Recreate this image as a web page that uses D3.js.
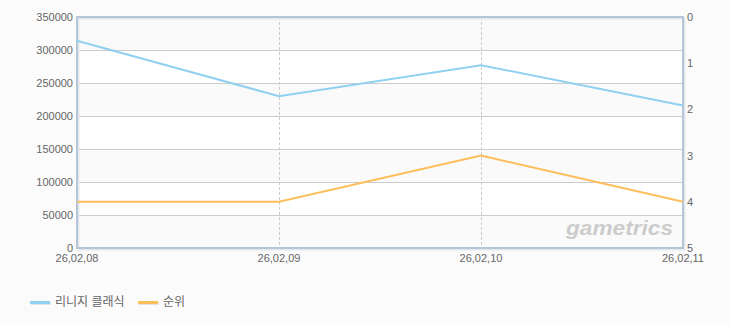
<!DOCTYPE html>
<html>
<head>
<meta charset="utf-8">
<script src="https://cdn.jsdelivr.net/npm/d3@7"></script>
<style>
  body { margin: 0; background: #fbfbfb; }
  text { font-family: "Liberation Sans", "Noto Sans CJK KR", sans-serif; }
</style>
</head>
<body>
<div id="chart"></div>
<script>
var dates = ["26,02,08", "26,02,09", "26,02,10", "26,02,11"];
var users = [314000, 230000, 277000, 216000];
var rank = [4, 4, 3, 4];
var leftTicks = [0, 50000, 100000, 150000, 200000, 250000, 300000, 350000];
var rightTicks = [0, 1, 2, 3, 4, 5];
var seriesNames = ["리니지 클래식", "순위"];

var width = 730, height = 325;
var plotLeft = 77, plotRight = 683, plotTop = 17, plotBottom = 248;
var blue = "#90d1f0", orange = "#fcbf5c";

var svg = d3.select("#chart").append("svg")
  .attr("width", width)
  .attr("height", height);

var x = d3.scalePoint().domain(dates).range([plotLeft, plotRight]);
var y = d3.scaleLinear().domain([0, 350000]).range([plotBottom, plotTop]);
var y2 = d3.scaleLinear().domain([5, 0]).range([plotBottom, plotTop]);

// alternating bands
svg.append("g").selectAll("rect")
  .data(d3.range(7))
  .join("rect")
  .attr("x", plotLeft)
  .attr("width", plotRight - plotLeft)
  .attr("y", function(i) { return y((i + 1) * 50000); })
  .attr("height", function(i) { return y(i * 50000) - y((i + 1) * 50000); })
  .attr("fill", function(i) { return i % 2 === 0 ? "#fafafa" : "#ffffff"; });

// horizontal gridlines
svg.append("g").selectAll("line")
  .data(leftTicks.slice(1, -1))
  .join("line")
  .attr("x1", plotLeft).attr("x2", plotRight)
  .attr("y1", function(d) { return Math.round(y(d)) + 0.5; })
  .attr("y2", function(d) { return Math.round(y(d)) + 0.5; })
  .attr("stroke", "#cccccc");

// vertical dashed gridlines
svg.append("g").selectAll("line")
  .data(dates.slice(1, -1))
  .join("line")
  .attr("x1", function(d) { return Math.round(x(d)) + 0.5; })
  .attr("x2", function(d) { return Math.round(x(d)) + 0.5; })
  .attr("y1", plotTop).attr("y2", plotBottom)
  .attr("stroke", "#cccccc")
  .attr("stroke-dasharray", "3,2");

// watermark
svg.append("text")
  .attr("x", 566).attr("y", 235)
  .attr("font-size", 21)
  .attr("font-weight", "bold")
  .attr("font-style", "italic")
  .attr("fill", "#cccccc")
  .attr("font-family", "DejaVu Sans, sans-serif")
  .attr("textLength", 107)
  .attr("lengthAdjust", "spacingAndGlyphs")
  .text("gametrics");

// frame with shadow
svg.append("rect")
  .attr("x", plotLeft + 1.5).attr("y", plotTop + 1.5)
  .attr("width", plotRight - plotLeft).attr("height", plotBottom - plotTop)
  .attr("fill", "none").attr("stroke", "#e4e8ec").attr("stroke-width", 2);
svg.append("rect")
  .attr("x", plotLeft).attr("y", plotTop)
  .attr("width", plotRight - plotLeft).attr("height", plotBottom - plotTop)
  .attr("fill", "none").attr("stroke", "#b4c6d8").attr("stroke-width", 2);

// lines
var line1 = d3.line().x(function(d, i) { return x(dates[i]); }).y(function(d) { return y(d); });
var line2 = d3.line().x(function(d, i) { return x(dates[i]); }).y(function(d) { return y2(d); });

svg.append("path").datum(users)
  .attr("d", line1).attr("fill", "none")
  .attr("stroke", blue).attr("stroke-width", 2);
svg.append("path").datum(rank)
  .attr("d", line2).attr("fill", "none")
  .attr("stroke", orange).attr("stroke-width", 2);

// axes labels
svg.append("g").selectAll("text")
  .data(leftTicks)
  .join("text")
  .attr("x", 73)
  .attr("y", function(d) { return y(d) + 4; })
  .attr("text-anchor", "end")
  .attr("font-size", 11)
  .attr("fill", "#666")
  .text(function(d) { return d; });

svg.append("g").selectAll("text")
  .data(rightTicks)
  .join("text")
  .attr("x", 687)
  .attr("y", function(d) { return y2(d) + 4; })
  .attr("font-size", 11)
  .attr("fill", "#666")
  .text(function(d) { return d; });

svg.append("g").selectAll("text")
  .data(dates)
  .join("text")
  .attr("x", function(d) { return x(d); })
  .attr("y", 262)
  .attr("text-anchor", "middle")
  .attr("font-size", 11)
  .attr("fill", "#666")
  .text(function(d) { return d; });

// legend
var legendX = [30, 138];
var legend = svg.append("g").selectAll("g")
  .data(seriesNames)
  .join("g")
  .attr("transform", function(d, i) { return "translate(" + legendX[i] + ",302)"; });
legend.append("rect")
  .attr("x", 1).attr("y", 0).attr("width", 20).attr("height", 3)
  .attr("fill", "#e2e2e2");
legend.append("rect")
  .attr("x", 0).attr("y", -1).attr("width", 20).attr("height", 3)
  .attr("fill", function(d, i) { return i === 0 ? blue : orange; });
legend.append("text")
  .attr("x", 25).attr("y", 4)
  .attr("font-size", 12)
  .attr("fill", "#666")
  .attr("font-family", "Noto Sans CJK KR, sans-serif")
  .text(function(d) { return d; });
</script>
</body>
</html>
